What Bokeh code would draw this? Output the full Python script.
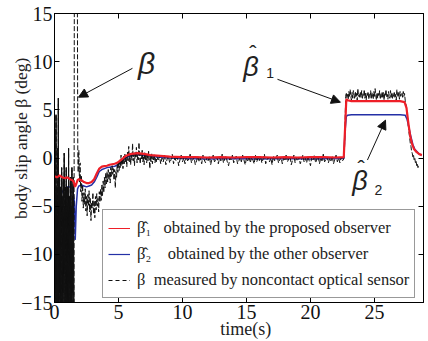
import numpy as np
from bokeh.plotting import figure
from bokeh.models import (Range1d, LinearAxis, Legend, LegendItem, Label,
                          Arrow, NormalHead, FixedTicker)
from bokeh.embed import file_html
from bokeh.resources import INLINE

# ---------------- data ----------------
x_ticks = [0, 5, 10, 15, 20, 25]
y_ticks = [-15, -10, -5, 0, 5, 10, 15]
y_tick_labels = {-15: "\u221215", -10: "\u221210", -5: "\u22125", 0: "0",
                 5: "5", 10: "10", 15: "15"}

# measured beta (dashed black): segments (start time, step, values)
meas_a_start, meas_a_step = 0.0, 0.02
meas_a = [5, -12, 3, -16, -4, -14, 4.5, -9, -17, -3, -13, -6, -16, 1, -11, 6.2,
          -15, -5, -17, -8, -2, -14, -7, -16, -3, -12, -17, -6, -1, -15, -9, -4,
          -17, -10, -2, -14, -6, -16, 0.5, -12, -5, -17, -8, -3, -15, -10, -1,
          -16, -7, -13, -3, -17, -9, -5, -15, 1, -11, -16, -4, -13, -7, -17, -2,
          -10, -15, -5, -12, -16, -1, -9, -14, -4, -17, -7, -2, -12, -17]
meas_spike_t = [1.56, 1.60, 1.76, 1.82]
meas_spike = [30, 30, 30, 0.5]
meas_c_start, meas_c_step = 1.85, 0.05
meas_c = [-1.5, 0.8, -2.5, -0.5, -3.5, -1.8, -4.5, -2.8, -5.2, -3.6, -4.8, -3.2,
          -5.5, -4.0, -6.0, -3.8, -5.0, -3.4, -5.6, -4.2, -6.5, -4.6, -5.2, -3.6,
          -5.8, -4.4, -6.2, -4.0, -5.4, -3.7, -5.0, -4.2, -5.6, -3.5]
meas_d_start, meas_d_step = 3.55, 0.05
meas_d = [-4.6, -3.2, -4.4, -2.8, -3.9, -2.4, -3.6, -2.0, -3.1, -1.6, -2.7, -1.4,
          -2.5, -1.2, -2.2, -1.5, -2.6, -1.0, -1.9, -0.8, -1.7, -1.1, -2.3, -1.2,
          -3.1, -1.4, -2.0, -0.6, -1.5, -0.4, -1.3, -0.2, -1.0, 0.3, -0.8, -0.1,
          -1.1, 0.2, -0.6, 0.4, -0.5, 0.1, -0.9, 0.6, -0.3, 1.2, -0.4, 0.3, -0.7,
          0.5, -0.2, 1.5, -0.3, 0.4, -0.8, 0.6, 0.0, 1.1, -0.5, 0.3, -0.2, 1.6,
          0.1, -0.6, 0.5, -0.1, 0.8, -0.4, 0.2, -0.7, 0.6, -0.2, 0.4, -0.5, 0.3,
          -0.3, 0.7, -0.1, -1.1, 0.2, -0.4, 0.5, -0.6, 0.1, -0.3, 0.4, -0.5, 0.0,
          -0.4, 0.2]
meas_e_step = 0.1
meas_e = [-0.3, 0.2, -0.6, 0.0, -0.4, 0.3, -0.7, -0.1, 0.2, -0.5, -0.2, 0.4, -0.6,
          0.0, -0.3, 0.1, -0.8, -0.2, 0.3, -0.4, 0.0, -0.6, 0.2, -0.3, -0.1, 0.4,
          -0.5, -0.2, 0.1, -0.7, -0.3, 0.2, -0.4, 0.0, -0.6, 0.3, -0.2, -0.5, 0.1,
          -0.3, 0.2, -0.7, -0.1, 0.3, -0.4, -0.2, 0.1, -0.6, 0.0, -0.3, 0.4, -0.5,
          -0.1, 0.2, -0.4, -0.8, 0.0, -0.2, 0.3, -0.5, -0.1, 0.2, -0.6, -0.3, 0.1,
          -0.4, 0.3, -0.2, -0.7, 0.0, -0.3, 0.2, -0.5, 0.1, -0.2, -0.6, 0.3, -0.4,
          0.0, -0.3, 0.2, -0.5, -0.1, 0.4, -0.6, -0.2, 0.1, -0.4, 0.0, -0.7, 0.2,
          -0.3, -0.1, 0.3, -0.5, -0.2, 0.1, -0.6, 0.0, -0.3, 0.4, -0.4, -0.1, 0.2,
          -0.7, -0.2, 0.3, -0.5, 0.0, -0.3, 0.1, -0.6, -0.2, 0.3, -0.4, 0.0, -0.5,
          0.2, -0.3, -0.8, 0.1, -0.2, 0.3, -0.5, -0.1, 0.2, -0.6, 0.0, -0.3, 0.4,
          -0.4, -0.2, 0.1, -0.5, 0.0, -0.3, 0.2, -0.6, -0.1, 0.3, -0.4, 0.0, -0.5,
          0.1, -0.3, -0.1]
meas_f_step = 0.05
meas_f = [0.5, 3.5, 6.4, 6.8, 6.2,
          6.6, 6.1, 6.9, 6.3, 7.1, 6.4, 6.0, 6.8, 6.2, 7.0, 6.5, 6.1, 6.9, 6.3, 6.7,
          6.0, 7.2, 6.4, 6.6, 6.2, 6.9, 6.3, 7.0, 6.1, 6.6, 6.4, 7.1, 6.2, 6.8, 6.0,
          6.7, 6.5, 6.9, 6.1, 6.6, 6.3, 7.0, 6.2, 6.8, 6.4, 6.1, 6.9, 6.3, 7.2, 6.5,
          6.0, 6.8, 6.2, 6.7, 6.4, 7.0, 6.1, 6.6, 6.3, 6.9, 6.2, 6.8, 6.0, 6.7, 6.5,
          7.1, 6.3, 6.6, 6.1, 6.9, 6.4, 6.2, 7.0, 6.3, 6.8, 6.1, 6.7, 6.4, 6.9, 6.2,
          6.6, 6.0, 7.1, 6.5, 6.3, 6.8, 6.1, 6.9, 6.4, 6.6,
          6.8, 6.3, 6.9, 6.4, 6.7, 6.0, 5.6, 5.3, 4.6, 4.0, 3.3, 2.6, 2.1, 1.5, 1.2,
          0.7, 0.5, 0.1, 0.3, -0.2, 0.0, -0.5, -0.3, -0.8, -0.6, -1.0, -0.7]

# beta_hat_1 (red, proposed observer)
t_red = [0.0, 0.2, 0.4, 0.6, 0.8, 1.0, 1.2, 1.4, 1.5, 1.6, 1.7, 1.8, 1.9, 2.1, 2.3,
         2.5, 2.7, 2.9, 3.1, 3.3, 3.5, 3.7, 3.9, 4.1, 4.3, 4.5, 4.7, 4.9, 5.1, 5.3,
         5.5, 5.7, 5.9, 6.2, 6.5, 6.8, 7.1, 7.5, 8.0, 8.5, 9.0, 10, 11, 12, 13, 14,
         15, 16, 17, 18, 19, 20, 21, 22, 22.6, 22.7, 22.8, 22.9, 23.2, 24, 25, 26,
         27, 27.35, 27.5, 27.65, 27.8, 27.95, 28.1, 28.3, 28.5, 28.7]
beta_hat1 = [-1.9, -2.0, -1.8, -2.0, -2.1, -2.0, -2.2, -2.3, -2.5, -3.0, -2.7, -2.3,
             -2.2, -2.3, -2.5, -2.6, -2.6, -2.5, -2.2, -1.6, -1.1, -0.9, -0.85, -0.8,
             -0.7, -0.65, -0.6, -0.5, -0.3, -0.1, 0.15, 0.3, 0.4, 0.45, 0.5, 0.45,
             0.4, 0.3, 0.25, 0.2, 0.15, 0.1, 0.1, 0.05, 0.1, 0.05, 0.1, 0.1, 0.05,
             0.1, 0.05, 0.1, 0.1, 0.05, 0.1, 3.0, 6.1, 6.0, 5.9, 5.9, 5.9, 5.9, 5.9,
             5.8, 5.2, 3.6, 2.2, 1.4, 0.9, 0.6, 0.4, 0.3]

# beta_hat_2 (blue, other observer)
t_blue = [0.0, 0.1, 0.3, 0.6, 1.0, 1.4, 1.55, 1.62, 1.7, 1.8, 1.9, 2.1, 2.3, 2.5,
          2.7, 2.9, 3.1, 3.3, 3.5, 3.7, 3.9, 4.1, 4.3, 4.5, 4.7, 4.9, 5.1, 5.3, 5.5,
          5.7, 5.9, 6.2, 6.5, 6.8, 7.1, 7.5, 8.0, 9.0, 10, 12, 14, 16, 18, 20, 22,
          22.6, 22.7, 22.8, 22.9, 23.2, 25, 27, 27.4, 27.55, 27.7, 27.85, 28.0,
          28.15, 28.3, 28.5, 28.7]
beta_hat2 = [-5.7, -5.5, -4.5, -3.5, -3.0, -3.0, -4.5, -8.5, -5.0, -3.2, -2.9, -2.8,
             -2.9, -3.0, -2.9, -2.8, -2.5, -2.0, -1.4, -1.2, -1.1, -1.0, -0.95, -0.9,
             -0.85, -0.75, -0.55, -0.3, -0.05, 0.1, 0.2, 0.3, 0.35, 0.3, 0.25, 0.2,
             0.1, 0.0, -0.05, -0.1, -0.05, -0.1, -0.05, -0.1, -0.05, -0.05, 2.8, 4.3,
             4.45, 4.5, 4.5, 4.5, 4.45, 4.0, 3.1, 2.2, 1.4, 0.9, 0.7, 0.4, 0.3]

NB = "\u00a0"
legend_labels = ["\u03b2\u0302\u2081" + NB + NB + " obtained by the proposed observer",
                 "\u03b2\u0302\u2082" + NB + NB + NB + " obtained by the other observer",
                 "\u03b2" + NB + " measured by noncontact optical sensor"]
y_label = NB * 9 + "body slip angle \u03b2 (deg)"
x_label = NB * 3 + "time(s)"

RED, BLUE, BLACK = "#ee1f28", "#2430a6", "#111111"

# ---------------- assemble measured series ----------------
def seg(start, step, vals):
    return [round(start + step * i, 4) for i in range(len(vals))]

t_a = seg(meas_a_start, meas_a_step, meas_a)
t_meas = (t_a + meas_spike_t +
          seg(meas_c_start, meas_c_step, meas_c) +
          seg(meas_d_start, meas_d_step, meas_d))
t_e0 = t_meas[-1] + meas_e_step
t_meas += seg(t_e0, meas_e_step, meas_e)
t_f0 = t_meas[-1] + meas_f_step
t_meas += seg(t_f0, meas_f_step, meas_f)
beta_meas = meas_a + meas_spike + meas_c + meas_d + meas_e + meas_f

# ---------------- figure ----------------
p = figure(width=428, height=341, x_range=Range1d(0, 28.83), y_range=Range1d(-15, 15),
           output_backend="svg", toolbar_location=None,
           min_border_left=54, min_border_right=5, min_border_top=13,
           min_border_bottom=38)
p.grid.visible = False
p.outline_line_color = "black"
p.outline_line_width = 1
p.background_fill_color = "white"
p.border_fill_color = "white"

TICK_FONT = "Liberation Sans Narrow"
SERIF = "Liberation Serif"
for ax in (p.xaxis[0], p.yaxis[0]):
    ax.major_tick_in = 5
    ax.major_tick_out = 0
    ax.minor_tick_in = 0
    ax.minor_tick_out = 0
    ax.axis_line_color = "black"
    ax.major_tick_line_color = "black"
    ax.major_label_text_font = TICK_FONT
    ax.major_label_text_font_size = "20px"
    ax.major_label_text_color = "#111111"
    ax.axis_label_text_font = SERIF
    ax.axis_label_text_font_style = "normal"
    ax.axis_label_text_color = "#222222"
p.xaxis[0].axis_label_text_font_size = "18px"
p.yaxis[0].axis_label_text_font_size = "17.5px"
p.xaxis[0].ticker = FixedTicker(ticks=x_ticks)
p.yaxis[0].ticker = FixedTicker(ticks=y_ticks)
p.yaxis[0].major_label_overrides = y_tick_labels
p.xaxis[0].major_label_standoff = 2
p.yaxis[0].major_label_standoff = 2
p.xaxis[0].axis_label = x_label
p.yaxis[0].axis_label = y_label
p.xaxis[0].axis_label_standoff = -3
p.yaxis[0].axis_label_standoff = -13

for loc, tk in (("above", x_ticks), ("right", y_ticks)):
    ax = LinearAxis(ticker=FixedTicker(ticks=tk))
    ax.major_tick_in = 5
    ax.major_tick_out = 0
    ax.minor_tick_in = 0
    ax.minor_tick_out = 0
    ax.major_label_text_font_size = "1px"
    ax.major_label_text_color = None
    ax.major_label_standoff = 0
    ax.axis_line_color = "black"
    p.add_layout(ax, loc)

# draw order: blue, measured (black), red
p.line(t_blue, beta_hat2, line_color=BLUE, line_width=1.5)
r_meas = p.line(t_meas, beta_meas, line_color=BLACK, line_width=1, line_dash="5 2")
p.line(t_a, meas_a, line_color=BLACK, line_width=1)
p.line(t_red, beta_hat1, line_color=RED, line_width=2.2)

# legend samples (thin strokes as in the original legend); NaN = nothing drawn
NAN = [float("nan")]
lg_red = p.line(NAN, NAN, line_color=RED, line_width=1)
lg_blue = p.line(NAN, NAN, line_color=BLUE, line_width=1.2)
lg_meas = p.line(NAN, NAN, line_color=BLACK, line_width=1, line_dash="4 3")

legend = Legend(items=[LegendItem(label=legend_labels[0], renderers=[lg_red]),
                       LegendItem(label=legend_labels[1], renderers=[lg_blue]),
                       LegendItem(label=legend_labels[2], renderers=[lg_meas])],
                location=(48, 4), margin=0, padding=5, spacing=1,
                label_height=25, glyph_width=22, glyph_height=20, label_standoff=7,
                label_text_font=SERIF, label_text_font_size="16.5px",
                label_text_color="#222222",
                border_line_color="#333333", border_line_width=1,
                background_fill_alpha=1.0)
p.add_layout(legend)

SANS = "Liberation Sans"
def greek(x, y, txt, size):
    p.add_layout(Label(x=x, y=y, text=txt, text_align="center", text_baseline="middle",
                       text_font=SANS, text_font_style="italic",
                       text_font_size=size, text_color="#222222"))

def plain(x, y, txt, size):
    p.add_layout(Label(x=x, y=y, text=txt, text_align="center", text_baseline="middle",
                       text_font=SANS, text_font_size=size, text_color="#222222"))

greek(7.19, 9.82, "\u03b2", "30px")
greek(15.35, 9.46, "\u03b2", "27px")
plain(15.5, 10.8, "\u02c6", "22px")
plain(16.84, 8.8, "1", "14px")
greek(23.87, -2.43, "\u03b2", "27px")
plain(23.95, -1.06, "\u02c6", "22px")
plain(25.3, -3.3, "2", "14px")

for xs, ys, xe, ye in ((6.09, 9.31, 1.875, 6.31),
                       (17.42, 8.17, 22.34, 5.79),
                       (24.45, -0.21, 25.86, 3.93)):
    p.add_layout(Arrow(end=NormalHead(size=9, fill_color=BLACK, line_color=BLACK),
                       x_start=xs, y_start=ys, x_end=xe, y_end=ye,
                       line_color=BLACK, line_width=1))

open("out.html", "w").write(file_html(p, INLINE))
